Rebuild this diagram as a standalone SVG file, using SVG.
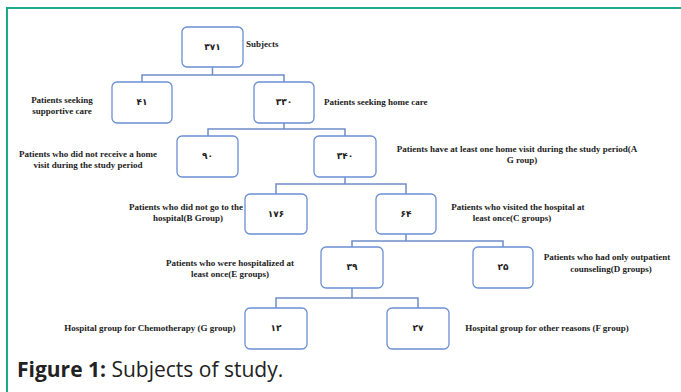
<svg xmlns="http://www.w3.org/2000/svg" width="681" height="392" viewBox="0 0 681 392">
<style>
.box{fill:#fff;stroke:#6b8fd3;stroke-width:1.3}
.num{font-family:"DejaVu Sans",sans-serif;font-weight:bold;font-size:9px;fill:#222;text-anchor:middle}
.lbl{font-family:"Liberation Serif",serif;font-weight:bold;font-size:9px;fill:#222}
.c{text-anchor:middle}
.conn{fill:none;stroke:#6f8cc8;stroke-width:1.5}
</style>
<rect width="681" height="392" fill="#fff"/>
<g id="frame">
<line x1="7" y1="8" x2="681" y2="8" stroke="#1ca98c" stroke-width="2"/>
<line x1="7" y1="7" x2="7" y2="392" stroke="#1ca98c" stroke-width="2"/>
</g>
<g id="connectors">
<path class="conn" d="M212.5 67V75M142 82V75H284V82"/>
<path class="conn" d="M284 123V129M208 136V129H345V136"/>
<path class="conn" d="M345 177V184M276 194V184H406V194"/>
<path class="conn" d="M406 234V241M352 247V241H503V247"/>
<path class="conn" d="M276 308V298H418V308"/>
<path class="conn" d="M352 288V298" stroke-width="2.2"/>
</g>
<g id="n371"><rect class="box" x="182" y="27" width="61" height="40" rx="5"/><text class="num" x="212.5" y="50">۳۷۱</text><text class="lbl" x="246" y="47">Subjects</text></g>
<g id="n41"><rect class="box" x="112" y="82" width="60" height="41" rx="5"/><text class="num" x="142" y="105">۴۱</text><text class="lbl c" x="62" y="103">Patients seeking</text><text class="lbl c" x="62" y="114">supportive care</text></g>
<g id="n330"><rect class="box" x="254" y="82" width="60" height="41" rx="5"/><text class="num" x="284" y="105">۳۳۰</text><text class="lbl" x="324" y="105">Patients seeking home care</text></g>
<g id="n90"><rect class="box" x="177" y="136" width="61" height="41" rx="5"/><text class="num" x="207.5" y="159">۹۰</text><text class="lbl c" x="88" y="157">Patients who did not receive a home</text><text class="lbl c" x="88" y="168">visit during the study period</text></g>
<g id="n340"><rect class="box" x="314" y="136" width="62" height="41" rx="5"/><text class="num" x="345" y="159">۳۴۰</text><text class="lbl c" x="517" y="152">Patients have at least one home visit during the study period(A</text><text class="lbl c" x="522" y="163">G roup)</text></g>
<g id="n176"><rect class="box" x="245" y="194" width="62" height="40" rx="5"/><text class="num" x="276" y="217">۱۷۶</text><text class="lbl c" x="186" y="210">Patients who did not go to the</text><text class="lbl c" x="188" y="221">hospital(B Group)</text></g>
<g id="n64"><rect class="box" x="376" y="194" width="60" height="40" rx="5"/><text class="num" x="406" y="217">۶۴</text><text class="lbl c" x="518" y="210">Patients who visited the hospital at</text><text class="lbl c" x="512" y="221">least once(C groups)</text></g>
<g id="n39"><rect class="box" x="321" y="247" width="62" height="41" rx="5"/><text class="num" x="352" y="270">۳۹</text><text class="lbl c" x="230" y="266">Patients who were hospitalized at</text><text class="lbl c" x="230" y="277">least once(E groups)</text></g>
<g id="n25"><rect class="box" x="473" y="247" width="60" height="41" rx="5"/><text class="num" x="503" y="270">۲۵</text><text class="lbl c" x="607" y="260">Patients who had only outpatient</text><text class="lbl c" x="611" y="272">counseling(D groups)</text></g>
<g id="n12"><rect class="box" x="245" y="308" width="62" height="41" rx="5"/><text class="num" x="276" y="331">۱۲</text><text class="lbl c" x="150" y="331">Hospital group for Chemotherapy (G group)</text></g>
<g id="n27"><rect class="box" x="387" y="308" width="62" height="41" rx="5"/><text class="num" x="418" y="331">۲۷</text><text class="lbl c" x="547" y="331">Hospital group for other reasons (F group)</text></g>
<text x="17" y="377" font-family="'Open Sans','Noto Sans',sans-serif" font-size="21" fill="#222"><tspan font-weight="bold">Figure 1:</tspan> Subjects of study.</text>
</svg>
